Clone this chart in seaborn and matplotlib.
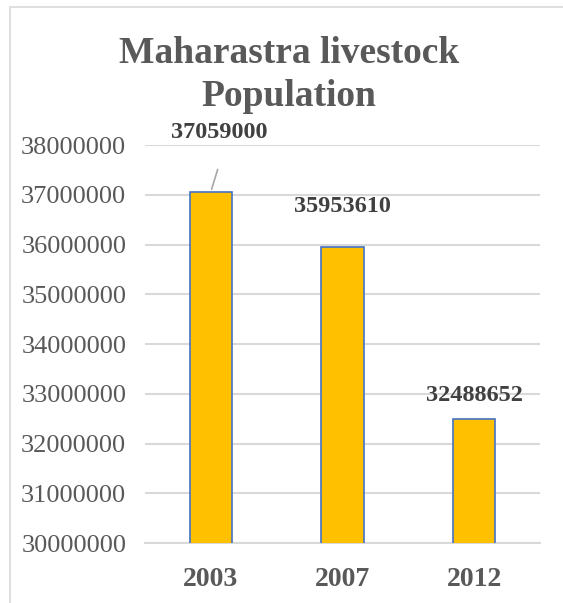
import matplotlib
matplotlib.use("Agg")
import matplotlib.pyplot as plt
import seaborn as sns
import pandas as pd
from matplotlib.patches import Rectangle

years = ["2003", "2007", "2012"]
population = [37059000, 35953610, 32488652]
y_ticks = [30000000, 31000000, 32000000, 33000000, 34000000, 35000000, 36000000, 37000000, 38000000]
title = "Maharastra livestock\nPopulation"

# label offsets above each bar top (points) and horizontal nudge (points)
label_dy = [42.5, 29.0, 17.0]
label_dx = [6.0, 0.0, 0.0]

sns.set_theme(style="white")
plt.rcParams["font.family"] = ["Liberation Serif", "DejaVu Serif"]

TEXT = "#595959"
GRID = "#D9D9D9"

df = pd.DataFrame({"year": years, "population": population})

fig = plt.figure(figsize=(5.63, 6.03), dpi=100)
ax = fig.add_axes([145 / 563, 1 - 543 / 603, 395 / 563, 398 / 603])

sns.barplot(data=df, x="year", y="population", color="#FFC000", saturation=1,
            edgecolor="#4472C4", linewidth=1.2, width=0.32, ax=ax, zorder=3)

ax.set_ylim(30000000, 38000000)
ax.set_yticks(y_ticks)
ax.set_yticklabels([str(v) for v in y_ticks])
ax.set_xlim(-0.5, 2.5)
ax.yaxis.grid(True, color=GRID, linewidth=1.5, zorder=0)
ax.set_axisbelow(True)
for s in ax.spines.values():
    s.set_visible(False)
ax.spines["bottom"].set_visible(True)
ax.spines["bottom"].set_color(GRID)
ax.spines["bottom"].set_linewidth(1.5)
ax.set_xlabel("")
ax.set_ylabel("")
ax.tick_params(axis="y", length=0, pad=13.5, labelsize=19, labelcolor=TEXT)
ax.tick_params(axis="x", length=0, pad=17, labelsize=20, labelcolor=TEXT)
for t in ax.get_xticklabels():
    t.set_fontweight("bold")

for i, v in enumerate(population):
    ax.annotate(str(v), xy=(i, v), xytext=(label_dx[i], label_dy[i]),
                textcoords="offset points", ha="center", va="center",
                fontsize=17.5, fontweight="bold", color="#404040", zorder=5)

# leader line from the first label down to its bar
ax.annotate("", xy=(0, population[0]), xytext=(5.5, 18),
            textcoords="offset points",
            arrowprops=dict(arrowstyle="-", color="#A6A6A6", lw=1.2))

fig.text(289 / 563, 1 - 75 / 603, title, ha="center", va="center",
         fontsize=27, fontweight="bold", color=TEXT, linespacing=1.32)

# chart area border (top and left edges visible)
fig.patches.append(Rectangle((10 / 563, -0.1), 1.2, 1 - 6.5 / 603 + 0.1,
                             transform=fig.transFigure, fill=False,
                             edgecolor=GRID, linewidth=1.2))

fig.savefig("out.png", dpi=100, facecolor="white")
